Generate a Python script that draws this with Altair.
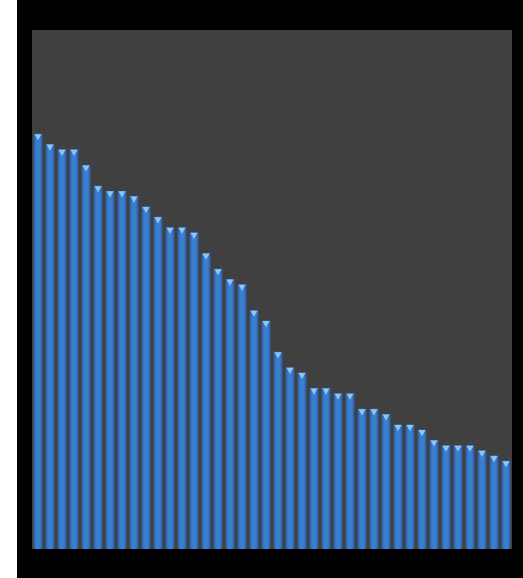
import altair as alt
import pandas as pd

categories = [f"Item {i:02d}" for i in range(1, 41)]
values = [80, 78, 77, 77, 74, 70, 69, 69, 68, 66,
          64, 62, 62, 61, 57, 54, 52, 51, 46, 44,
          38, 35, 34, 31, 31, 30, 30, 27, 27, 26,
          24, 24, 23, 21, 20, 20, 20, 19, 18, 17]

df = pd.DataFrame({"category": categories, "value": values})
one = pd.DataFrame({"a": [0]})

frame = alt.Chart(one).mark_rect(color="#000000", clip=False).encode(
    x=alt.value(-15), x2=alt.value(491), y=alt.value(-30), y2=alt.value(548)
)
plotbg = alt.Chart(one).mark_rect(color="#404040").encode(
    x=alt.value(0), x2=alt.value(480), y=alt.value(0), y2=alt.value(519)
)

xenc = alt.X("category:N", sort=None, axis=None,
             scale=alt.Scale(paddingInner=0.25, paddingOuter=0.125))
yenc = alt.Y("value:Q", axis=None, scale=alt.Scale(domain=[0, 100]))

bars = alt.Chart(df).mark_bar(
    color=alt.Gradient(
        gradient="linear", x1=0, x2=1, y1=0, y2=0,
        stops=[alt.GradientStop(color="#2c5c9e", offset=0),
               alt.GradientStop(color="#3b7fd3", offset=0.35),
               alt.GradientStop(color="#3b7fd3", offset=0.65),
               alt.GradientStop(color="#2c5c9e", offset=1)],
    )
).encode(x=xenc, y=yenc)

tri = alt.Chart(df).mark_point(
    shape="triangle-down", filled=True, color="#8ec6f2", size=50, yOffset=3.5, opacity=1
).encode(x=xenc, y=yenc)

chart = alt.layer(frame, plotbg, bars, tri).properties(
    width=480, height=519,
    padding={"left": 32, "top": 30, "right": 11, "bottom": 29},
    autosize="none",
    background="white",
).configure_view(stroke=None)

chart.save("out.html", embed_options={"renderer": "svg", "actions": False})
